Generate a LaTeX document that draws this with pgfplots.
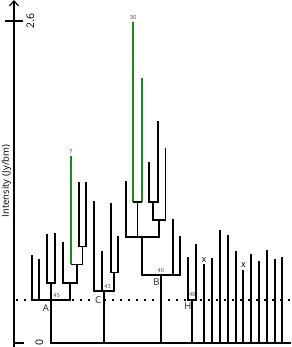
\documentclass[border=0pt]{standalone}
\usepackage{fontspec}
\setmainfont{Open Sans}
\usepackage{pgfplots}
\pgfplotsset{compat=1.18}
\usetikzlibrary{arrows.meta}
\definecolor{dgreen}{RGB}{30,135,30}
\definecolor{lblgray}{RGB}{60,60,60}
\tikzset{
 blk/.style={black, line width=1.8pt, no markers},
 grn/.style={dgreen, line width=2pt, no markers},
 tiny/.style={font=\fontsize{5.5}{5.5}\selectfont, text=lblgray, inner sep=0.3pt},
 let/.style={font=\fontsize{9.5}{9.5}\selectfont, text=black!85, inner sep=0pt},
}
\begin{document}
\begin{tikzpicture}
\useasboundingbox (0,0) rectangle (291pt,347pt);
\begin{axis}[
 at={(14pt,0pt)}, anchor=south west,
 scale only axis, width=277pt, height=347pt,
 xmin=14, xmax=291, ymin=-0.0325, ymax=2.7705,
 axis x line=none, axis y line=left,
 y axis line style={line width=1.6pt, -{Straight Barb[length=5pt,width=9pt,line width=1.2pt]}},
 ytick={2.6}, extra y ticks={0},
 tick align=center, major tick length=18pt,
 tick style={line width=1.6pt, black},
 extra y tick style={tick align=inside, major tick length=10pt},
 /pgf/number format/assume math mode=true,
 yticklabel style={font=\fontsize{10.5}{10.5}\selectfont, xshift=18pt, rotate=90, anchor=north},
 ylabel={Intensity (Jy/bm)},
 ylabel style={font=\fontsize{9.5}{9.5}\selectfont, at={(axis description cs:-0.0271,0.478)}, anchor=center},
 clip=false,
]
% dotted threshold
\addplot[black, line width=1.8pt, dash pattern=on 1.8pt off 6.2pt] coordinates {(16,0.35) (291,0.35)};
% root baseline and A trunk
\addplot[blk] coordinates {(51,0.4875) (51,0) (291,0)};
% group A
\addplot[blk] coordinates {(31.7,0.707) (31.7,0.35) (70,0.35) (70,0.4875)};
\addplot[blk] coordinates {(39,0.682) (39,0.35)};
\addplot[blk] coordinates {(47.3,0.877) (47.3,0.4875) (55,0.4875) (55,0.886)};
\addplot[blk] coordinates {(63.3,0.8125) (63.3,0.4875) (76.7,0.4875) (76.7,0.634)};
\addplot[grn] coordinates {(70.7,1.511) (70.7,0.634)};
\addplot[blk] coordinates {(70.7,0.634) (82.5,0.634) (82.5,0.78)};
\addplot[blk] coordinates {(79,1.30) (79,0.78) (86,0.78) (86,1.30)};
% group C
\addplot[blk] coordinates {(94,1.148) (94,0.417) (114,0.417) (114,0.569)};
\addplot[blk] coordinates {(101.7,0.739) (101.7,0.417)};
\addplot[blk] coordinates {(111,1.129) (111,0.569) (117.7,0.569) (117.7,0.861)};
\addplot[blk] coordinates {(104.3,0.417) (104.3,0)};
% group B
\addplot[blk] coordinates {(126,1.311) (126,0.853) (159.3,0.853) (159.3,0.994)};
\addplot[grn] coordinates {(133.3,2.592) (133.3,1.140)};
\addplot[grn] coordinates {(141.7,2.137) (141.7,1.140)};
\addplot[blk] coordinates {(133.3,1.140) (141.7,1.140)};
\addplot[blk] coordinates {(137.5,1.140) (137.5,0.853)};
\addplot[blk] coordinates {(149.3,1.462) (149.3,1.140) (157.7,1.140) (157.7,1.796)};
\addplot[blk] coordinates {(153.3,1.140) (153.3,0.994) (165.5,0.994) (165.5,1.576)};
\addplot[blk] coordinates {(142.3,0.853) (142.3,0.552) (180,0.552) (180,0.861)};
\addplot[blk] coordinates {(173.3,0.999) (173.3,0.552)};
\addplot[blk] coordinates {(161,0.552) (161,0)};
% group H
\addplot[blk] coordinates {(188.3,0.691) (188.3,0.35) (196,0.35) (196,0.796)};
\addplot[blk] coordinates {(192.3,0.35) (192.3,0)};
% isolated leaves
\addplot[blk] coordinates {(204,0.634) (204,0)};
\addplot[blk] coordinates {(211.7,0.688) (211.7,0)};
\addplot[blk] coordinates {(220,0.912) (220,0)};
\addplot[blk] coordinates {(227.7,0.869) (227.7,0)};
\addplot[blk] coordinates {(235.7,0.742) (235.7,0)};
\addplot[blk] coordinates {(243.3,0.587) (243.3,0)};
\addplot[blk] coordinates {(251,0.715) (251,0)};
\addplot[blk] coordinates {(259,0.661) (259,0)};
\addplot[blk] coordinates {(266.7,0.747) (266.7,0)};
\addplot[blk] coordinates {(275,0.682) (275,0)};
\addplot[blk] coordinates {(282.3,0.696) (282.3,0)};
% labels
\node[tiny, anchor=south] at (axis cs:70.7,1.53) {7};
\node[tiny, anchor=south] at (axis cs:133.3,2.61) {30};
\node[tiny] at (axis cs:56.8,0.385) {45};
\node[tiny] at (axis cs:107.5,0.452) {43};
\node[tiny] at (axis cs:160.8,0.587) {40};
\node[tiny] at (axis cs:192.2,0.395) {48};
\node[let] at (axis cs:46,0.284) {A};
\node[let, fill=white, inner sep=0.3pt] at (axis cs:98,0.349) {C};
\node[let] at (axis cs:156.5,0.492) {B};
\node[let] at (axis cs:188,0.298) {H};
\node[font=\fontsize{9}{9}\selectfont, inner sep=0pt] at (axis cs:204,0.672) {x};
\node[font=\fontsize{9}{9}\selectfont, inner sep=0pt] at (axis cs:243.5,0.632) {x};
\end{axis}
\end{tikzpicture}
\end{document}
